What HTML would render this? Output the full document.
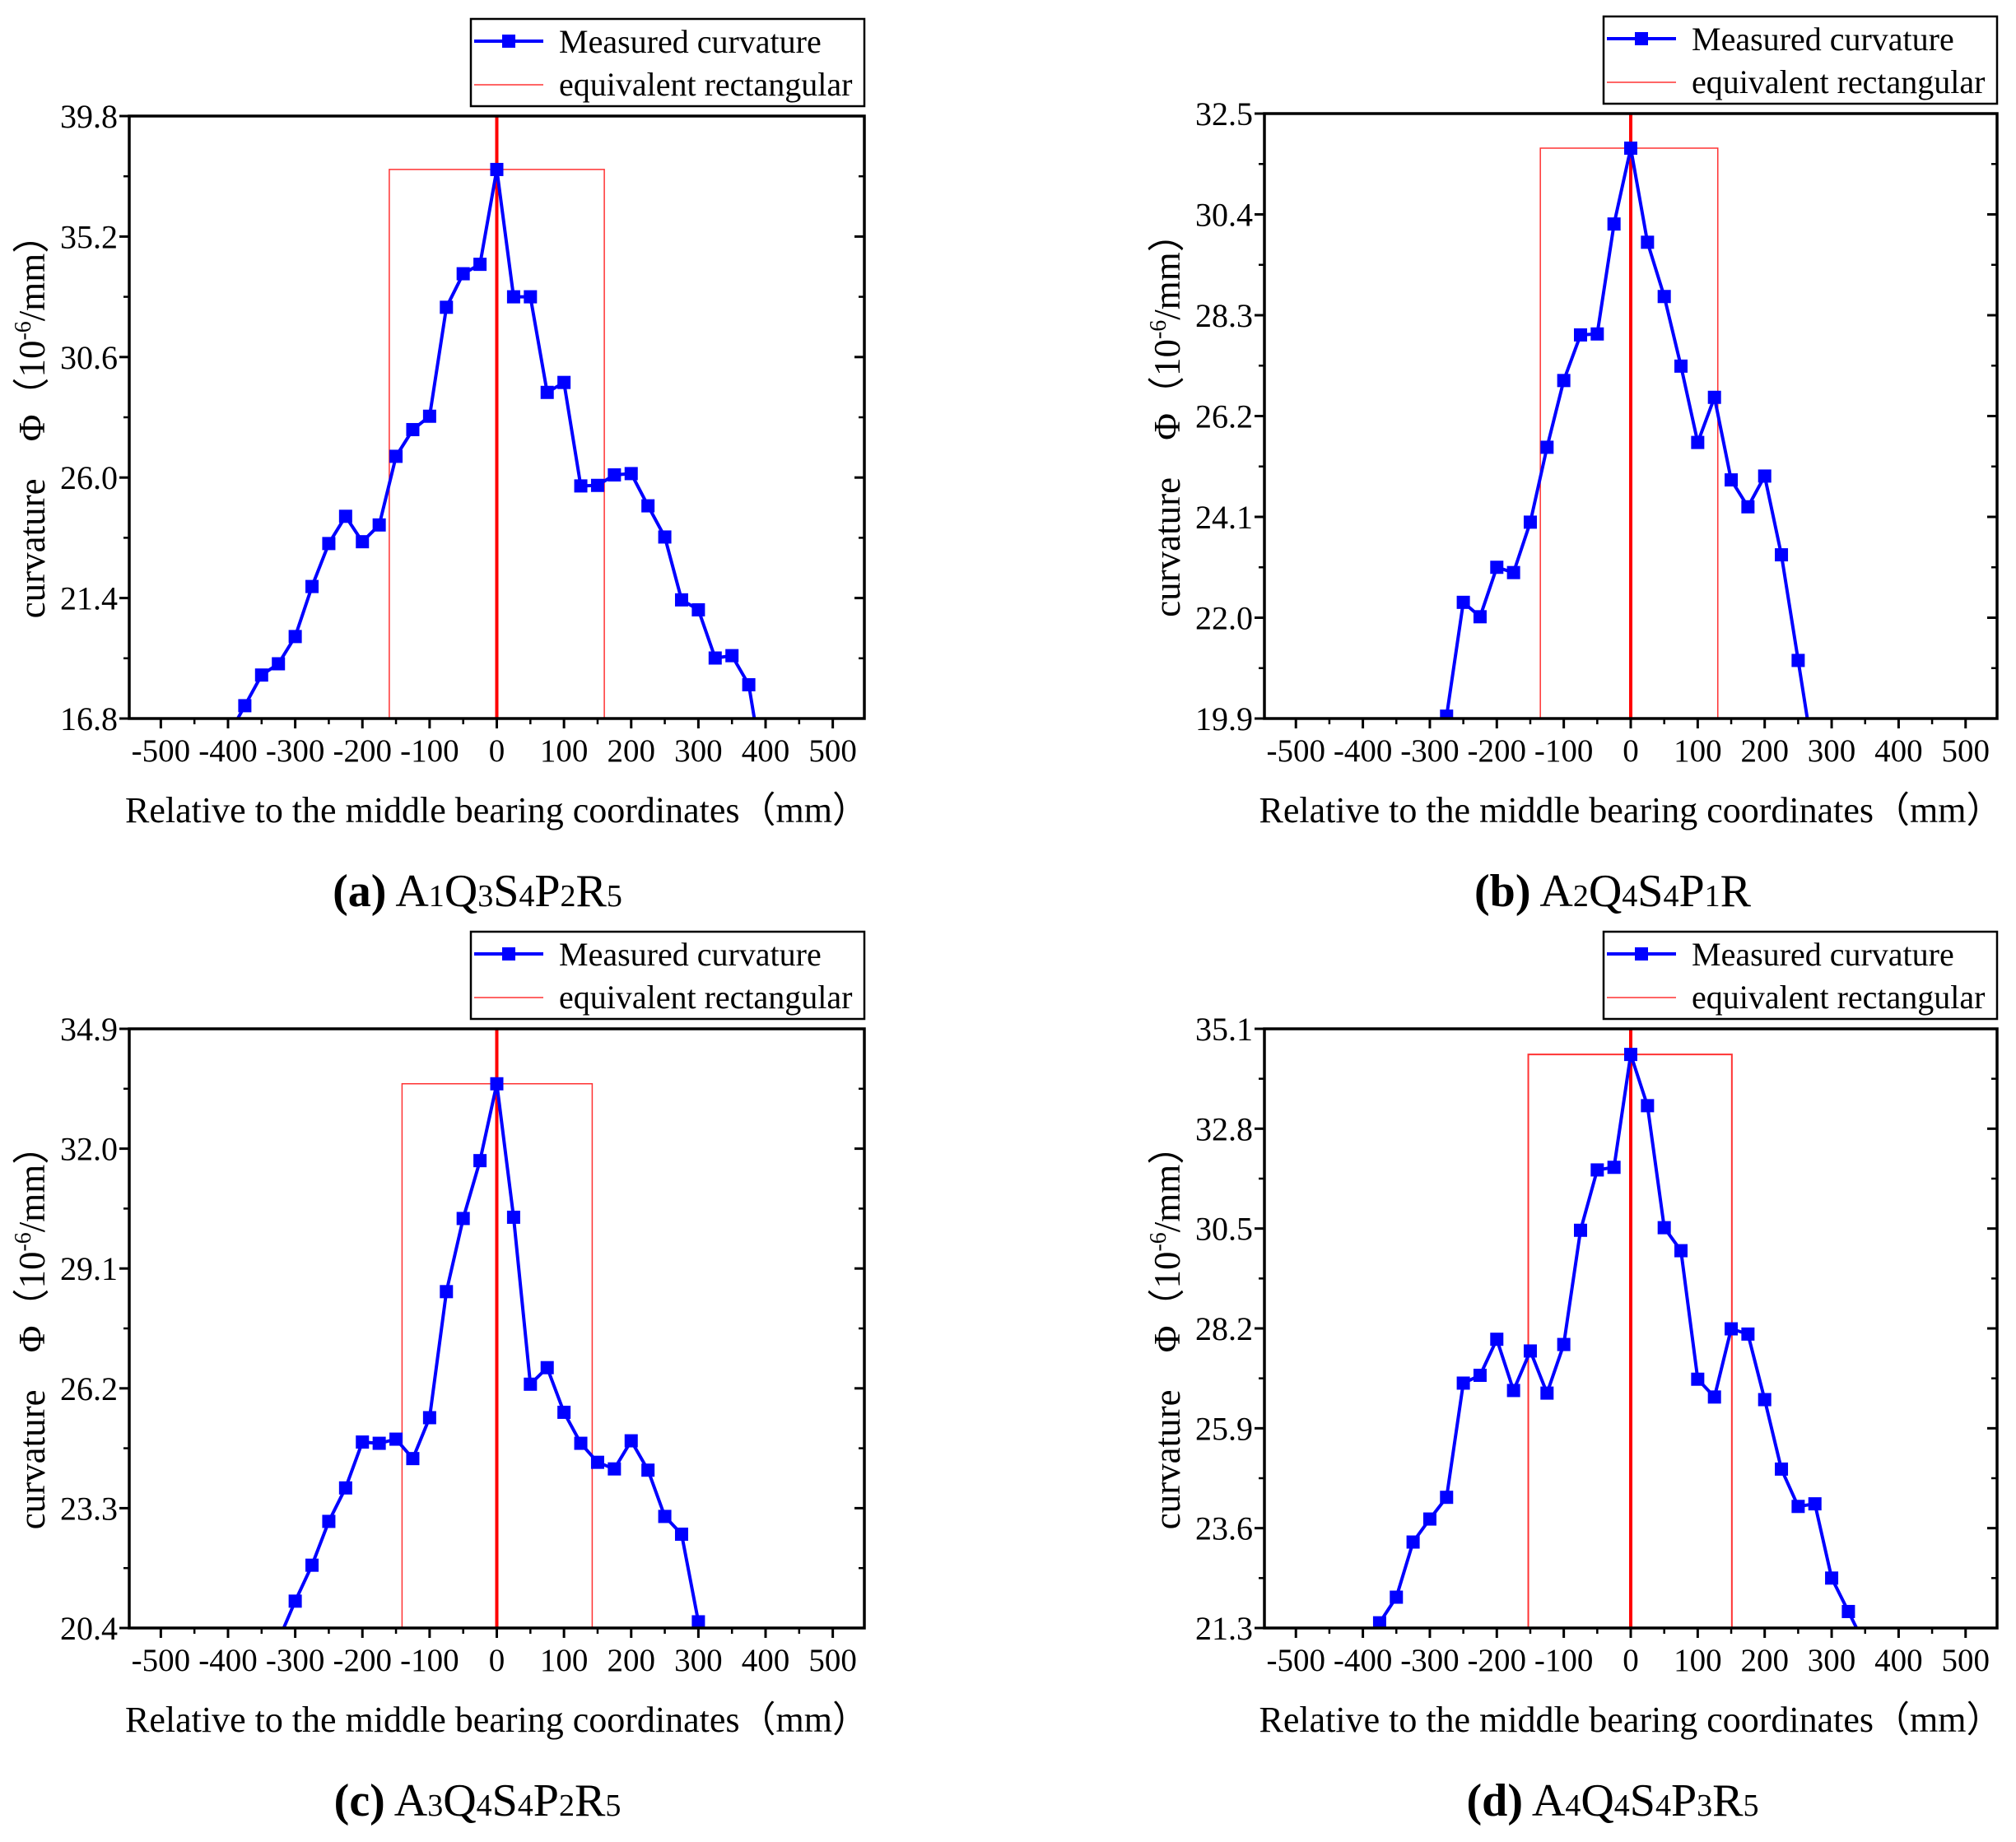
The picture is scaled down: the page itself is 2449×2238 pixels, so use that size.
<!DOCTYPE html>
<html><head><meta charset="utf-8">
<style>
html,body{margin:0;padding:0;background:#fff;}
svg{display:block;font-family:"Liberation Serif",serif;}
</style></head>
<body>
<svg id="s" width="2449" height="2238" xmlns="http://www.w3.org/2000/svg"></svg>
<script>
const S=document.getElementById('s');
let out='';
const panels=[
 {L:157,R:1050,T:141,B:873,ymin:16.8,ystep:4.6,n:5,rect:[-160,160,37.76],cap:'a',capx:580,
  sub:[['A','1'],['Q','3'],['S','4'],['P','2'],['R','5']],
  data:[[-400,16.12],[-375,17.29],[-350,18.46],[-325,18.89],[-300,19.93],[-275,21.84],[-250,23.48],[-225,24.52],[-200,23.55],[-175,24.19],[-150,26.81],[-125,27.83],[-100,28.34],[-75,32.5],[-50,33.78],[-25,34.14],[0,37.76],[25,32.9],[50,32.9],[75,29.25],[100,29.63],[125,25.68],[150,25.7],[175,26.1],[200,26.15],[225,24.92],[250,23.73],[275,21.33],[300,20.95],[325,19.11],[350,19.2],[375,18.09],[400,14.2]],marks:[1,31],rw:1.5},
 {L:1536,R:2426,T:138,B:873,ymin:19.9,ystep:2.1,n:6,rect:[-135,130,31.78],cap:'b',capx:1959,
  sub:[['A','2'],['Q','4'],['S','4'],['P','1'],['R','']],
  data:[[-300,18.0],[-275,19.95],[-250,22.32],[-225,22.02],[-200,23.05],[-175,22.94],[-150,23.99],[-125,25.55],[-100,26.94],[-75,27.89],[-50,27.91],[-25,30.2],[0,31.78],[25,29.82],[50,28.69],[75,27.24],[100,25.65],[125,26.59],[150,24.87],[175,24.31],[200,24.95],[225,23.31],[250,21.11],[275,18.9]],marks:[1,22],rw:1.5},
 {L:157,R:1050,T:1250,B:1978,ymin:20.4,ystep:2.9,n:5,rect:[-141,142,33.57],cap:'c',capx:580,
  sub:[['A','3'],['Q','4'],['S','4'],['P','2'],['R','5']],
  data:[[-325,20.1],[-300,21.05],[-275,21.92],[-250,22.98],[-225,23.79],[-200,24.9],[-175,24.87],[-150,24.97],[-125,24.5],[-100,25.49],[-75,28.54],[-50,30.31],[-25,31.71],[0,33.57],[25,30.34],[50,26.3],[75,26.7],[100,25.62],[125,24.87],[150,24.41],[175,24.25],[200,24.93],[225,24.22],[250,23.1],[275,22.67],[300,20.55],[325,19.0]],marks:[1,25],rw:1.5},
 {L:1536,R:2426,T:1250,B:1978,ymin:21.3,ystep:2.3,n:6,rect:[-153,151,34.51],cap:'d',capx:1959,
  sub:[['A','4'],['Q','4'],['S','4'],['P','3'],['R','5']],
  data:[[-400,20.8],[-375,21.42],[-350,22.01],[-325,23.28],[-300,23.81],[-275,24.31],[-250,26.94],[-225,27.12],[-200,27.95],[-175,26.77],[-150,27.68],[-125,26.71],[-100,27.83],[-75,30.46],[-50,31.85],[-25,31.91],[0,34.51],[25,33.33],[50,30.52],[75,29.99],[100,27.03],[125,26.62],[150,28.19],[175,28.07],[200,26.56],[225,24.96],[250,24.1],[275,24.16],[300,22.45],[325,21.68],[350,20.9]],marks:[1,29],rw:2}
];
panels.forEach((p,i)=>{
 const xmin=-547,xmax=547;
 const ymax=p.ymin+p.ystep*p.n;
 const X=v=>p.L+(v-xmin)/(xmax-xmin)*(p.R-p.L);
 const Y=v=>p.B-(v-p.ymin)/(ymax-p.ymin)*(p.B-p.T);
 out+=`<clipPath id="c${i}"><rect x="${p.L}" y="${p.T}" width="${p.R-p.L}" height="${p.B-p.T}"/></clipPath>`;
 const r=p.rect;
 out+=`<g clip-path="url(#c${i})"><polyline points="${X(r[0])},${p.B} ${X(r[0])},${Y(r[2])} ${X(r[1])},${Y(r[2])} ${X(r[1])},${p.B}" fill="none" stroke="#f33" stroke-width="${p.rw}"/>`;
 out+=`<line x1="${X(0)}" y1="${p.T}" x2="${X(0)}" y2="${p.B}" stroke="#f00" stroke-width="4"/>`;
 out+=`<polyline points="${p.data.map(d=>X(d[0]).toFixed(1)+','+Y(d[1]).toFixed(1)).join(' ')}" fill="none" stroke="#00f" stroke-width="4"/>`;
 for(let k=p.marks[0];k<=p.marks[1];k++){const d=p.data[k];out+=`<rect x="${X(d[0])-8}" y="${Y(d[1])-8}" width="16" height="16" fill="#00f"/>`;}
 out+=`</g>`;
 out+=`<rect x="${p.L}" y="${p.T}" width="${p.R-p.L}" height="${p.B-p.T}" fill="none" stroke="#000" stroke-width="3.5"/>`;
 for(let v=-500;v<=500;v+=100){const x=X(v);
  out+=`<line x1="${x}" y1="${p.B}" x2="${x}" y2="${p.B+12}" stroke="#000" stroke-width="3"/>`;
  out+=`<text x="${x}" y="${p.B+52}" font-size="39" text-anchor="middle">${v}</text>`;}
 for(let v=-550;v<=550;v+=100){if(v>xmin&&v<xmax){const x=X(v);out+=`<line x1="${x}" y1="${p.B}" x2="${x}" y2="${p.B+7}" stroke="#000" stroke-width="2.5"/>`;}}
 for(let k=0;k<=p.n;k++){const v=p.ymin+k*p.ystep,y=Y(v);
  out+=`<line x1="${p.L-12}" y1="${y}" x2="${p.L}" y2="${y}" stroke="#000" stroke-width="3"/>`;
  out+=`<line x1="${p.R-12}" y1="${y}" x2="${p.R}" y2="${y}" stroke="#000" stroke-width="3"/>`;
  out+=`<text x="${p.L-14}" y="${y+14}" font-size="40" text-anchor="end">${v.toFixed(1)}</text>`;
  if(k<p.n){const ym=Y(v+p.ystep/2);out+=`<line x1="${p.L-7}" y1="${ym}" x2="${p.L}" y2="${ym}" stroke="#000" stroke-width="2.5"/><line x1="${p.R-7}" y1="${ym}" x2="${p.R}" y2="${ym}" stroke="#000" stroke-width="2.5"/>`;}
 }
 const cx=(p.L+p.R)/2, cy=(p.T+p.B)/2;
 out+=`<text x="${cx}" y="${p.B+126}" font-size="44" text-anchor="middle">Relative to the middle bearing coordinates（mm）</text>`;
 out+=`<text transform="translate(${p.L-103},${cy}) rotate(-90)" font-size="45" text-anchor="middle">curvature　Φ（10<tspan font-size="28" dy="-17">-6</tspan><tspan dy="17">/mm）</tspan></text>`;
 let cap=`<tspan font-weight="bold">(${p.cap})</tspan> `;
 p.sub.forEach(s=>{cap+=`${s[0]}<tspan font-size="38">${s[1]}</tspan>`;});
 out+=`<text x="${p.capx}" y="${p.B+228}" font-size="56" text-anchor="middle">${cap}</text>`;
 const lx=p.R-478, ly=p.T-118;
 out+=`<rect x="${lx}" y="${ly}" width="478" height="106" fill="#fff" stroke="#000" stroke-width="2.5"/>`;
 out+=`<line x1="${lx+4}" y1="${ly+27}" x2="${lx+88}" y2="${ly+27}" stroke="#00f" stroke-width="4"/><rect x="${lx+38}" y="${ly+19}" width="16" height="16" fill="#00f"/>`;
 out+=`<line x1="${lx+4}" y1="${ly+80}" x2="${lx+88}" y2="${ly+80}" stroke="#f33" stroke-width="1.5"/>`;
 out+=`<text x="${lx+107}" y="${ly+41}" font-size="40">Measured curvature</text>`;
 out+=`<text x="${lx+107}" y="${ly+93}" font-size="40">equivalent rectangular</text>`;
});
S.innerHTML=out;
</script>
</body></html>
